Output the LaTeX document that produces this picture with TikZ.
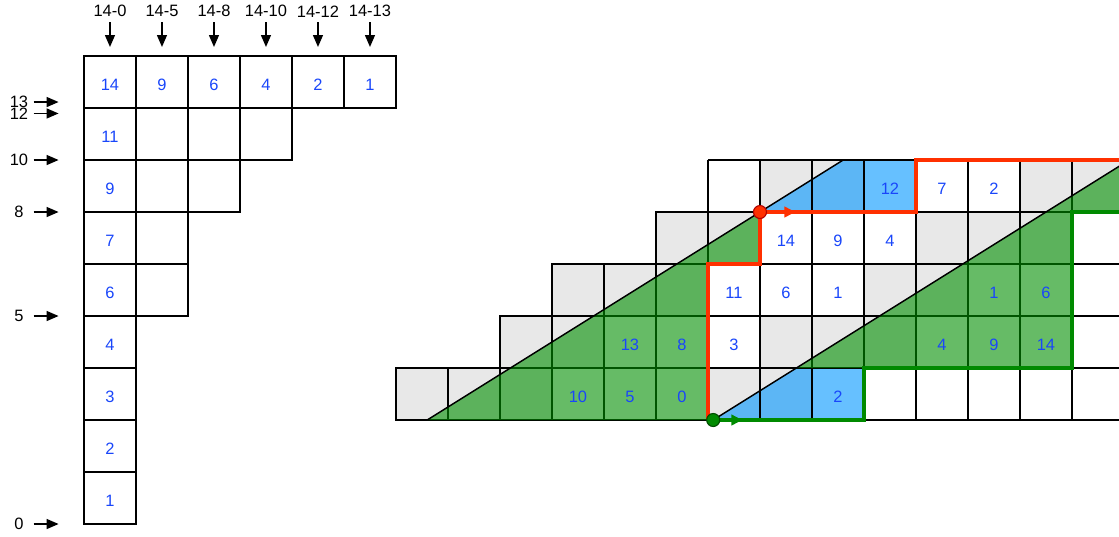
\documentclass[tikz,border=0pt]{standalone}
\usepackage{fontspec}
\setmainfont{Liberation Sans}
\usepackage{tikz}
\usetikzlibrary{arrows.meta,positioning}
\definecolor{cellgray}{RGB}{232,232,232}
\definecolor{numblue}{RGB}{25,70,250}
\definecolor{pathred}{RGB}{255,48,0}
\definecolor{pathgreen}{RGB}{0,138,0}
\definecolor{shadegreen}{RGB}{0,142,0}
\definecolor{shadeblue}{RGB}{0,150,255}
\tikzstyle{num} = [text=numblue, font=\fontsize{9}{10}\selectfont]
\tikzstyle{toptag} = [minimum height=0.4cm, inner sep=0pt, font=\fontsize{9}{10}\selectfont]
\tikzstyle{sidetag} = [minimum width=0.55cm, inner sep=0pt, font=\fontsize{9}{10}\selectfont]
\tikzstyle{arrow} = [line width=0.9pt, -{Triangle[length=0.23cm, width=0.19cm]}]
\tikzstyle{boldgrid} = [line width=1.6pt, line cap=rect]
\tikzstyle{finegrid} = [line width=1pt]
\tikzstyle{diag} = [line width=0.8pt]
\tikzstyle{redpath} = [line width=2.2pt, draw=pathred]
\tikzstyle{greenpath} = [line width=2.2pt, draw=pathgreen]
\tikzstyle{dot} = [circle, minimum size=0.25cm, inner sep=0pt, line width=0.6pt]
\tikzstyle{midarrow} = [-{Triangle[length=0.21cm, width=0.2cm]}]
\tikzstyle{shade} = [fill opacity=0.6]

\begin{document}
\begin{tikzpicture}[node distance=1cm]
      \useasboundingbox (-1.615,-0.231) rectangle (19.904,10.077);
      \clip (-1.615,-0.231) rectangle (19.904,10.077);
      % left table
      \draw[boldgrid] (0,8) grid (6,9);
      \draw[boldgrid] (0,7) grid (4,8);
      \draw[boldgrid] (0,6) grid (3,7);
      \draw[boldgrid] (0,4) grid (2,6);
      \draw[boldgrid] (0,0) grid (1,4);
      \node (a1)[num] at (0.5,8.44) {14};
      \node (a2)[num, right of=a1] {9};
      \node (a3)[num, right of=a2] {6};
      \node (a4)[num, right of=a3] {4};
      \node (a5)[num, right of=a4] {2};
      \node (a6)[num, right of=a5] {1};
      \node (b1)[num, below of=a1] {11};
      \node (b2)[num, below of=b1] {9};
      \node (b3)[num, below of=b2] {7};
      \node (b4)[num, below of=b3] {6};
      \node (b5)[num, below of=b4] {4};
      \node (b6)[num, below of=b5] {3};
      \node (b7)[num, below of=b6] {2};
      \node (b8)[num, below of=b7] {1};
      % column tags
      \node (t0)[toptag] at (0.5,9.86) {14-0};
      \node (t5)[toptag, right of=t0] {14-5};
      \node (t8)[toptag, right of=t5] {14-8};
      \node (t10)[toptag, right of=t8] {14-10};
      \node (t12)[toptag, right of=t10] {14-12};
      \node (t13)[toptag, right of=t12] {14-13};
      \coordinate[below=0.48cm of t0.south] (h0);
      \coordinate[below=0.48cm of t5.south] (h5);
      \coordinate[below=0.48cm of t8.south] (h8);
      \coordinate[below=0.48cm of t10.south] (h10);
      \coordinate[below=0.48cm of t12.south] (h12);
      \coordinate[below=0.48cm of t13.south] (h13);
      \draw[arrow] (t0) -- (h0);
      \draw[arrow] (t5) -- (h5);
      \draw[arrow] (t8) -- (h8);
      \draw[arrow] (t10) -- (h10);
      \draw[arrow] (t12) -- (h12);
      \draw[arrow] (t13) -- (h13);
      % row tags
      \node (s13)[sidetag] at (-1.25,8.115) {13};
      \node (s12)[sidetag] at (-1.25,7.895) {12};
      \node (s10)[sidetag] at (-1.25,7) {10};
      \node (s8)[sidetag] at (-1.25,6) {8};
      \node (s5)[sidetag] at (-1.25,4) {5};
      \node (s0)[sidetag] at (-1.25,0) {0};
      \coordinate[right=0.48cm of s13.east] (e13);
      \coordinate[right=0.48cm of s12.east] (e12);
      \coordinate[right=0.48cm of s10.east] (e10);
      \coordinate[right=0.48cm of s8.east] (e8);
      \coordinate[right=0.48cm of s5.east] (e5);
      \coordinate[right=0.48cm of s0.east] (e0);
      \draw[arrow] (s13) -- (e13);
      \draw[arrow] (s12) -- (e12);
      \draw[arrow] (s10) -- (e10);
      \draw[arrow] (s8) -- (e8);
      \draw[arrow] (s5) -- (e5);
      \draw[arrow] (s0) -- (e0);
      % right table
      \fill[cellgray] (13,6) rectangle (15,7) (18,6) rectangle (20,7)
        (11,5) rectangle (13,6) (16,5) rectangle (19,6)
        (9,4) rectangle (12,5) (15,4) rectangle (17,5)
        (8,3) rectangle (10,4) (13,3) rectangle (16,4)
        (6,2) rectangle (9,3) (12,2) rectangle (14,3);
      \fill[shadeblue, shade] (13,6) -- (14.6,7) -- (16,7) -- (16,6) -- cycle;
      \fill[shadeblue, shade] (12.1,2) -- (13.7,3) -- (15,3) -- (15,2) -- cycle;
      \draw[finegrid] (6,2) grid (20,3) (8,3) grid (20,4) (9,4) grid (20,5)
        (11,5) grid (20,6) (12,6) grid (20,7);
      \draw[boldgrid] (6,2) grid (9,3) (8,3) grid (10,4) (9,4) grid (12,5) (11,5) grid (13,6);
      \fill[shadegreen, shade] (6.6,2) -- (13,6) -- (13,5) -- (12,5) -- (12,2) -- cycle;
      \fill[shadegreen, shade] (13.7,3) -- (20.1,7) -- (20.1,6) -- (19,6) -- (19,3) -- cycle;
      \draw[diag] (6.6,2) -- (14.6,7);
      \draw[diag] (12.1,2) -- (20.1,7);
      \draw[redpath] (12,2) -- (12,5) -- (13,5) -- (13,6) -- (16,6) -- (16,7) -- (20,7);
      \draw[greenpath] (12.1,2) -- (15,2) -- (15,3) -- (19,3) -- (19,6) -- (20,6);
      \coordinate (redtip) at (13.68,6);
      \coordinate (greentip) at (12.66,2);
      \draw[redpath, midarrow] (13,6) -- (redtip);
      \draw[greenpath, midarrow] (12.1,2) -- (greentip);
      \node (reddot)[dot, fill=pathred, draw=red!70!black] at (13,6) {};
      \node (greendot)[dot, fill=pathgreen, draw=green!30!black] at (12.1,2) {};
      % numbers in the right table
      \node (r0c9)[num] at (15.5,6.44) {12};
      \node (r0c10)[num, right of=r0c9] {7};
      \node (r0c11)[num, right of=r0c10] {2};
      \node (r1c7)[num] at (13.5,5.44) {14};
      \node (r1c8)[num, right of=r1c7] {9};
      \node (r1c9)[num, right of=r1c8] {4};
      \node (r2c6)[num] at (12.5,4.44) {11};
      \node (r2c7)[num, right of=r2c6] {6};
      \node (r2c8)[num, right of=r2c7] {1};
      \node (r2c11)[num] at (17.5,4.44) {1};
      \node (r2c12)[num, right of=r2c11] {6};
      \node (r3c4)[num] at (10.5,3.44) {13};
      \node (r3c5)[num, right of=r3c4] {8};
      \node (r3c6)[num, right of=r3c5] {3};
      \node (r3c10)[num] at (16.5,3.44) {4};
      \node (r3c11)[num, right of=r3c10] {9};
      \node (r3c12)[num, right of=r3c11] {14};
      \node (r4c3)[num] at (9.5,2.44) {10};
      \node (r4c4)[num, right of=r4c3] {5};
      \node (r4c5)[num, right of=r4c4] {0};
      \node (r4c8)[num] at (14.5,2.44) {2};
    \end{tikzpicture}
\end{document}
